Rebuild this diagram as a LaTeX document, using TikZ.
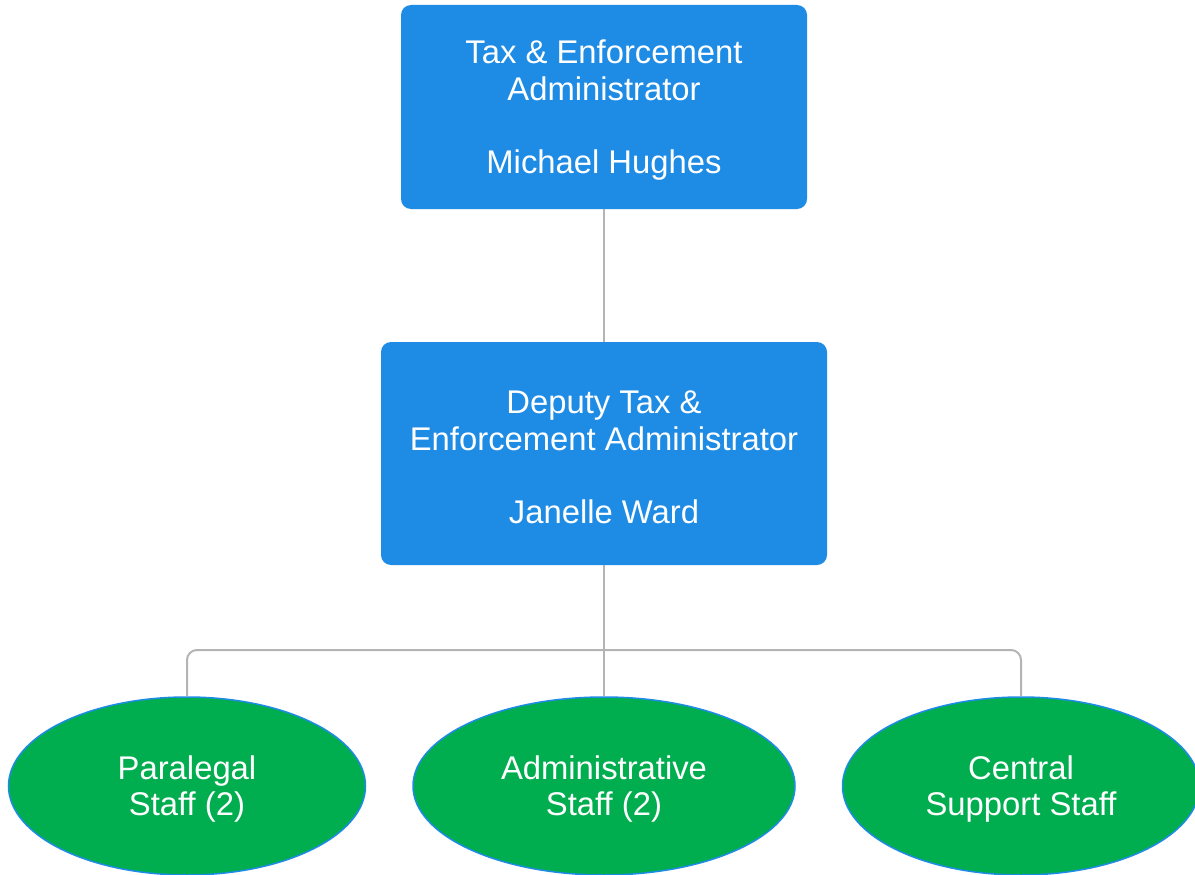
\documentclass[tikz,border=0pt]{standalone}
\usepackage{fontspec}
\setmainfont{Liberation Sans}
\usetikzlibrary{shapes.geometric}
\definecolor{boxblue}{RGB}{30,139,229}
\definecolor{staffgreen}{RGB}{0,174,80}
\definecolor{linkgray}{RGB}{180,180,180}
\newcommand{\lowtext}{\rule{0pt}{30pt}}
\begin{document}
\begin{tikzpicture}[x=1pt,y=-1pt,
  post/.style={fill=boxblue,rounded corners=10pt,text=white,align=center,inner sep=0pt},
  staff/.style={ellipse,draw=boxblue,line width=1.5pt,fill=staffgreen,text=white,align=center,inner sep=0pt,minimum height=178pt},
  link/.style={draw=linkgray,line width=2pt}]
\clip (0,0) rectangle (1195,875);
\fontsize{32.8}{36.5}\selectfont
\node[post,minimum width=406pt,minimum height=204pt] (admin) at (604,107) {\lowtext Tax \& Enforcement\\Administrator\\[36.5pt]Michael Hughes};
\node[post,minimum width=446pt,minimum height=223pt] (deputy) at (604,453.5) {\lowtext Deputy Tax \&\\Enforcement Administrator\\[36.5pt]Janelle Ward};
\coordinate (bus) at (604,650);
\foreach \n/\x/\w/\t in {para/187/357/{Paralegal\\Staff (2)},clerk/604/382/{Administrative\\Staff (2)},central/1021/357/{Central\\Support Staff}}
  \node[staff,minimum width=\w pt] (\n) at (\x,786) {\lowtext\t};
\draw[link] (admin) -- (deputy);
\draw[link] (deputy) -- (clerk);
\draw[link,rounded corners=10pt] (para.north) |- (bus) -| (central.north);
\end{tikzpicture}
\end{document}
